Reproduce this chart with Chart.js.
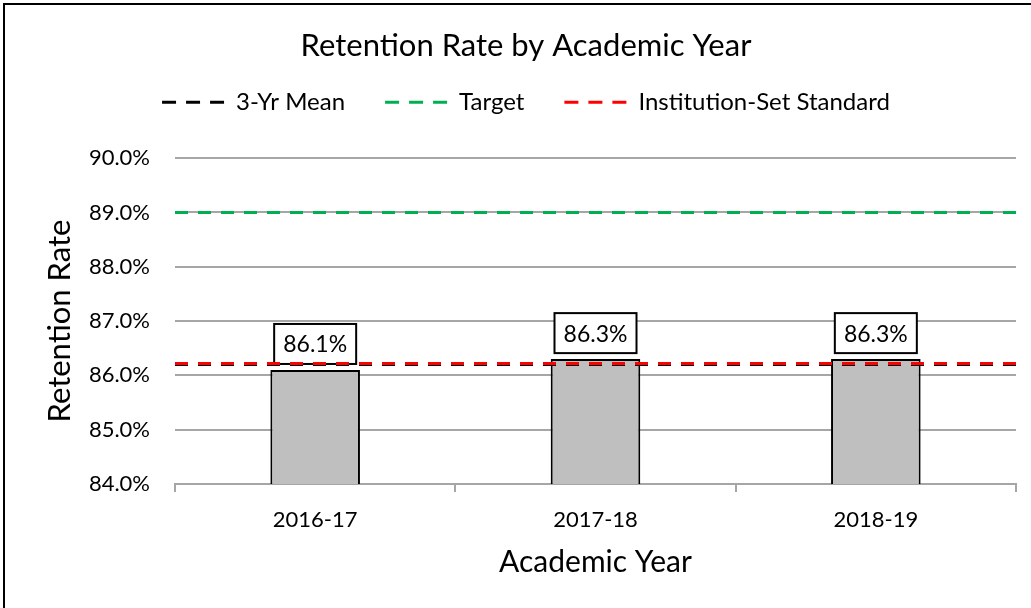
<!DOCTYPE html>
<html>
<head>
<meta charset="utf-8">
<script src="https://cdn.jsdelivr.net/npm/chart.js@4/dist/chart.umd.min.js"></script>
<style>
html, body { margin: 0; padding: 0; background: #fff; overflow: hidden; }
#wrap { width: 1031px; height: 608px; }
</style>
</head>
<body>
<div id="wrap"><canvas id="chart" width="1031" height="608"></canvas></div>
<script>
// data
var years = ['2016-17', '2017-18', '2018-19'];
var retention = [86.1, 86.3, 86.3];
var meanRate = 86.2;
var targetRate = 89.0;
var standardRate = 86.22;
var yMin = 84, yMax = 90, yStep = 1;

var FONT = 'Lato';

// flat reference line across the whole plot, on a hidden linear x axis 0..n
function flatLine(v) {
  return [{ x: 0, y: v }, { x: years.length, y: v }];
}

// white background + the black frame at the top/left of the picture
const framePlugin = {
  id: 'frame',
  beforeDraw(chart) {
    const ctx = chart.ctx;
    ctx.save();
    ctx.fillStyle = '#fff';
    ctx.fillRect(0, 0, chart.width, chart.height);
    ctx.strokeStyle = '#000';
    ctx.lineWidth = 2;
    ctx.beginPath();
    ctx.moveTo(4, chart.height);
    ctx.lineTo(4, 4);
    ctx.lineTo(chart.width, 4);
    ctx.stroke();
    ctx.restore();
  }
};

// a bit more room under the legend
const legendSpace = {
  id: 'legendSpace',
  beforeInit(chart) {
    const fit = chart.legend.fit;
    chart.legend.fit = function () {
      fit.call(this);
      this.height += 34;
    };
  }
};

// boxed value labels above the bars (drawn before the dashed lines)
const boxLabels = {
  id: 'boxLabels',
  afterDatasetDraw(chart, args) {
    if (args.index !== 0) return;
    const ctx = chart.ctx;
    ctx.save();
    ctx.font = '23px ' + FONT;
    ctx.textAlign = 'center';
    ctx.textBaseline = 'middle';
    args.meta.data.forEach(function (bar, i) {
      const w = 82, h = 40;
      const x = bar.x - w / 2, y = bar.y - 6 - h;
      ctx.fillStyle = '#fff';
      ctx.fillRect(x, y, w, h);
      ctx.strokeStyle = '#000';
      ctx.lineWidth = 2;
      ctx.strokeRect(x, y, w, h);
      ctx.fillStyle = '#000';
      ctx.fillText(retention[i].toFixed(1) + '%', bar.x, y + h / 2 + 1);
    });
    ctx.restore();
  }
};

var dash = [13, 10];

const ctx = document.getElementById('chart').getContext('2d');
const myChart = new Chart(ctx, {
  type: 'bar',
  data: {
    labels: years,
    datasets: [{
      type: 'bar',
      label: 'Retention Rate',
      data: retention,
      backgroundColor: '#bfbfbf',
      borderColor: '#000',
      borderWidth: 2,
      grouped: false,
      barPercentage: 0.94,
      categoryPercentage: 0.34,
      order: 10
    }, {
      type: 'line',
      label: '3-Yr Mean',
      data: flatLine(meanRate),
      xAxisID: 'xLine',
      borderColor: '#000',
      borderWidth: 3,
      borderDash: dash,
      pointRadius: 0,
      order: 3
    }, {
      type: 'line',
      label: 'Target',
      data: flatLine(targetRate),
      xAxisID: 'xLine',
      borderColor: '#00b050',
      borderWidth: 3,
      borderDash: dash,
      pointRadius: 0,
      order: 2
    }, {
      type: 'line',
      label: 'Institution-Set Standard',
      data: flatLine(standardRate),
      xAxisID: 'xLine',
      borderColor: '#ff0000',
      borderWidth: 3,
      borderDash: dash,
      pointRadius: 0,
      order: 1
    }]
  },
  options: {
    responsive: false,
    devicePixelRatio: 1,
    animation: false,
    layout: { padding: { left: 36, right: 15, top: 0, bottom: 0 } },
    plugins: {
      title: {
        display: true,
        text: 'Retention Rate by Academic Year',
        color: '#000',
        font: { family: FONT, size: 31, weight: 'normal' },
        padding: { top: 27, bottom: -14 }
      },
      legend: {
        display: true,
        labels: {
          color: '#000',
          font: { family: FONT, size: 24 },
          usePointStyle: true,
          pointStyleWidth: 62,
          boxHeight: 10,
          padding: 40,
          generateLabels: function (chart) {
            return chart.data.datasets.map(function (ds, i) {
              return {
                text: ds.label,
                fillStyle: ds.borderColor,
                strokeStyle: ds.borderColor,
                fontColor: '#000',
                lineWidth: 3,
                lineDash: [14, 10],
                pointStyle: 'line',
                hidden: false,
                datasetIndex: i
              };
            }).filter(function (item) { return item.datasetIndex > 0; });
          }
        }
      },
      tooltip: { enabled: false }
    },
    scales: {
      x: {
        type: 'category',
        offset: true,
        grid: { display: true, offset: true, drawOnChartArea: false, drawTicks: true, tickLength: 8, color: '#a6a6a6', lineWidth: 2 },
        border: { display: true, color: '#a6a6a6', width: 2 },
        ticks: { color: '#000', font: { family: FONT, size: 22 }, padding: 15 },
        title: { display: true, text: 'Academic Year', color: '#000', font: { family: FONT, size: 30 }, padding: { top: 0, bottom: 28 } },
        afterFit: function (s) { s.height = 124; }
      },
      xLine: {
        type: 'linear',
        display: false,
        offset: false,
        min: 0,
        max: years.length
      },
      y: {
        min: yMin,
        max: yMax,
        grid: { color: '#a6a6a6', lineWidth: 2, drawTicks: false },
        border: { display: false },
        ticks: {
          stepSize: yStep,
          color: '#000',
          font: { family: FONT, size: 22 },
          padding: 25,
          callback: function (v) { return v.toFixed(1) + '%'; }
        },
        title: { display: true, text: 'Retention Rate', color: '#000', font: { family: FONT, size: 31 }, padding: { top: 5, bottom: 0 } },
        afterFit: function (s) { s.width = 139; }
      }
    }
  },
  plugins: [framePlugin, legendSpace, boxLabels]
});
</script>
</body>
</html>
